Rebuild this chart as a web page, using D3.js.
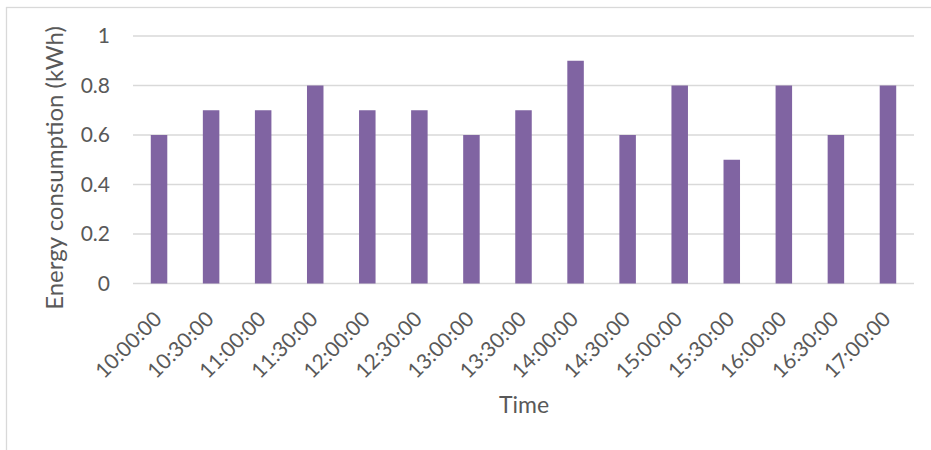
<!DOCTYPE html>
<html>
<head>
<meta charset="utf-8">
<script src="https://cdn.jsdelivr.net/npm/d3@7"></script>
<style>
  html, body { margin: 0; padding: 0; background: #fff; }
  svg { display: block; }
  text { font-family: Lato, "Open Sans", sans-serif; fill: #595959; }
</style>
</head>
<body>
<svg id="chart" width="931" height="450"></svg>
<script>
// Half-hourly energy readings
const times = ["10:00:00","10:30:00","11:00:00","11:30:00","12:00:00","12:30:00","13:00:00","13:30:00",
               "14:00:00","14:30:00","15:00:00","15:30:00","16:00:00","16:30:00","17:00:00"];
const consumption = [0.6,0.7,0.7,0.8,0.7,0.7,0.6,0.7,0.9,0.6,0.8,0.5,0.8,0.6,0.8];
const yTicks = [0, 0.2, 0.4, 0.6, 0.8, 1];

const svg = d3.select("#chart");
const plot = { left: 133, right: 914, top: 36, bottom: 283.5 };

// chart frame
svg.append("rect")
  .attr("x", 6.5).attr("y", 7.5)
  .attr("width", 940).attr("height", 460)
  .attr("fill", "none").attr("stroke", "#d9d9d9").attr("stroke-width", 1.3);

const x = d3.scaleBand()
  .domain(times)
  .range([plot.left, plot.right])
  .paddingInner(0.683)
  .paddingOuter(0.3415);

const y = d3.scaleLinear().domain([0, 1]).range([plot.bottom, plot.top]);

// horizontal gridlines
svg.append("g").selectAll("line")
  .data(yTicks)
  .join("line")
  .attr("x1", plot.left).attr("x2", plot.right)
  .attr("y1", d => y(d)).attr("y2", d => y(d))
  .attr("stroke", "#d9d9d9").attr("stroke-width", 1.3);

// y tick labels
svg.append("g").selectAll("text")
  .data(yTicks)
  .join("text")
  .attr("x", 110).attr("y", d => y(d))
  .attr("dy", "0.35em")
  .attr("text-anchor", "end")
  .style("font-size", "21px")
  .text(d => d3.format("")(d));

// bars
svg.append("g").selectAll("rect")
  .data(times.map((t, i) => ({ t, v: consumption[i] })))
  .join("rect")
  .attr("x", d => x(d.t))
  .attr("y", d => y(d.v))
  .attr("width", x.bandwidth())
  .attr("height", d => y(0) - y(d.v))
  .attr("fill", "#8064a2");

// rotated category labels
svg.append("g").selectAll("text")
  .data(times)
  .join("text")
  .attr("transform", d => `translate(${x(d) + x.bandwidth() / 2 + 4},${plot.bottom + 37}) rotate(-45)`)
  .attr("text-anchor", "end")
  .style("font-size", "21px")
  .text(d => d);

// axis titles
svg.append("text")
  .attr("x", 524).attr("y", 413)
  .attr("text-anchor", "middle")
  .style("font-size", "23px")
  .text("Time");

svg.append("text")
  .attr("transform", "translate(63,168) rotate(-90)")
  .attr("text-anchor", "middle")
  .style("font-size", "24px")
  .text("Energy consumption (kWh)");
</script>
</body>
</html>
